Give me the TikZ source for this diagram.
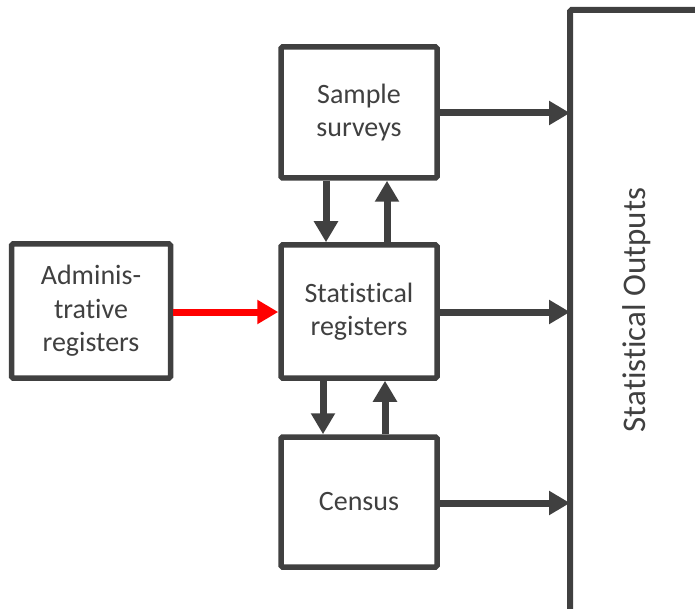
\documentclass[tikz,border=0pt]{standalone}
\usepackage{fontspec}
\setmainfont{Carlito}[Ligatures={NoCommon}]
\usetikzlibrary{arrows.meta}
\definecolor{dg}{HTML}{404040}
\begin{document}
\begin{tikzpicture}[x=1pt,y=-1pt,
  boxst/.style={draw=dg,line width=5.5pt,rounded corners=1.5pt,fill=white,inner sep=0pt,
    font=\fontsize{28}{33.5}\selectfont,text=dg,align=center},
  arr/.style={draw=dg,line width=7pt,-{Triangle[length=21pt,width=23pt]}},
  redarr/.style={draw=red,line width=7pt,-{Triangle[length=21pt,width=23pt]}}]
\useasboundingbox (0,0) rectangle (695,609);
\node[boxst,minimum width=156pt,minimum height=131pt] (ss) at (359,112.5) {Sample\\surveys};
\node[boxst,minimum width=156pt,minimum height=133pt] (sr) at (359,311.5) {Statistical\\registers};
\node[boxst,minimum width=156pt,minimum height=130pt] (ce) at (359,502) {Census};
\node[boxst,minimum width=159pt,minimum height=134pt] (ad) at (91,311) {Adminis-\\trative\\registers};
\draw[dg,line width=6pt,rounded corners=1.5pt] (570,10) rectangle (720,612);
\node[rotate=90,font=\fontsize{33}{38}\selectfont,text=dg] (so) at (637,310) {Statistical Outputs};
\coordinate (o1) at (570,113);
\coordinate (o2) at (570,312);
\coordinate (o3) at (570,503);
\draw[arr] (ss.east |- o1) -- (o1);
\draw[arr] (sr.east |- o2) -- (o2);
\draw[arr] (ce.east |- o3) -- (o3);
\draw[redarr] (ad.east |- o2) -- (sr.west |- o2);
\draw[arr] (ss.south -| 326,0) -- (sr.north -| 326,0);
\draw[arr] (sr.north -| 387,0) -- (ss.south -| 387,0);
\draw[arr] (sr.south -| 323,0) -- (ce.north -| 323,0);
\draw[arr] (ce.north -| 385,0) -- (sr.south -| 385,0);
\end{tikzpicture}
\end{document}
